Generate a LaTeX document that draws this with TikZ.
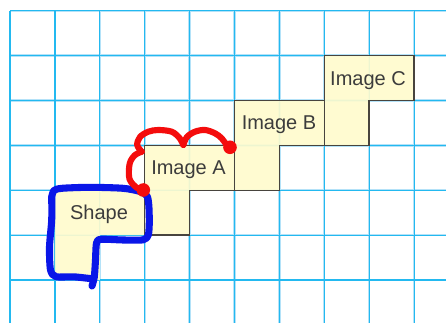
\documentclass[tikz,border=0pt]{standalone}
\usepackage{fontspec}
\setmainfont{Liberation Sans}
\definecolor{gridblue}{RGB}{35,185,240}
\definecolor{gridhalo}{RGB}{180,226,248}
\definecolor{paleyellow}{RGB}{255,251,206}
\definecolor{boxedge}{RGB}{72,68,62}
\definecolor{labelgray}{RGB}{60,60,60}
\definecolor{penblue}{RGB}{10,22,232}
\definecolor{penred}{RGB}{244,12,12}
\tikzset{
  gridhalo/.style={draw=gridhalo, line width=1.7pt},
  gridline/.style={draw=gridblue, line width=0.9pt},
  imagebox/.style={fill=paleyellow, fill opacity=0.92, draw=boxedge, line width=1.1pt, line join=miter},
  shapefill/.style={fill=paleyellow, fill opacity=0.92, draw=none},
  boxlabel/.style={text=labelgray, font=\fontsize{15}{18}\selectfont, inner sep=0pt, anchor=base},
  bluepen/.style={draw=penblue, line width=5.3pt, line cap=round, line join=round},
  redpen/.style={draw=penred, line width=4.6pt, line cap=round, line join=round},
}
\begin{document}
\begin{tikzpicture}[x=0.75pt,y=-0.75pt]
\useasboundingbox (0,0) rectangle (446,323);
\fill[white] (0,0) rectangle (446,323);
% grid
\foreach \i in {0,...,9} {
  \draw[gridhalo] ({10+44.9*\i},10.7) -- ({10+44.9*\i},323);
}
\foreach \j in {0,...,6} {
  \draw[gridhalo] (10,{10.7+44.9*\j}) -- (446,{10.7+44.9*\j});
}
\foreach \i in {0,...,9} {
  \draw[gridline] ({10+44.9*\i},10.7) -- ({10+44.9*\i},323);
}
\foreach \j in {0,...,6} {
  \draw[gridline] (10,{10.7+44.9*\j}) -- (446,{10.7+44.9*\j});
}
% shape fill
\path[shapefill] (54.9,190.3) -- (144.7,190.3) -- (144.7,235.2) -- (99.8,235.2) -- (99.8,280.1) -- (54.9,280.1) -- cycle;
% images
\draw[imagebox] (144.7,145.4) -- (234.5,145.4) -- (234.5,190.3) -- (189.6,190.3) -- (189.6,235.2) -- (144.7,235.2) -- cycle;
\draw[imagebox] (234.5,100.5) -- (324.3,100.5) -- (324.3,145.4) -- (279.4,145.4) -- (279.4,190.3) -- (234.5,190.3) -- cycle;
\draw[imagebox] (324.3,55.6) -- (414.1,55.6) -- (414.1,100.5) -- (369.2,100.5) -- (369.2,145.4) -- (324.3,145.4) -- cycle;
% labels
\node[boxlabel] (shapelbl) at (99,219.3) {Shape};
\node[boxlabel] (imgA) at (188.5,174.3) {Image A};
\node[boxlabel] (imgB) at (279,129.3) {Image B};
\node[boxlabel] (imgC) at (368,86) {Image C};
% blue hand-drawn outline
\draw[bluepen] plot[smooth, tension=0.45] coordinates {(51.7,197) (54,190.5) (62,188.3) (90,187.3) (123,188.3) (140,191.5) (147,196) (148.8,205) (149.3,222) (148.3,235) (143.3,239.8) (123.3,240) (101,239.3) (96.5,243) (95.5,260) (94.3,277) (92,286)};
\draw[bluepen] plot[smooth, tension=0.45] coordinates {(93,279) (88,278.3) (73.3,276.8) (56,276.7) (50.5,270) (49.5,247) (51.7,220) (51.7,197)};
% red curve
\coordinate (dotA) at (143.3,190);
\coordinate (dotB) at (230,147.3);
\draw[redpen] plot[smooth, tension=0.55] coordinates {(dotA) (136.7,187.7) (129.5,179) (129.6,164) (134.5,155.5) (141.7,151.7)};
\draw[redpen] plot[smooth, tension=0.55] coordinates {(141.7,151.7) (137.2,145) (140,137) (148.3,131.7) (158.3,130) (171.7,131.7) (179.5,138) (183.3,145)};
\draw[redpen] plot[smooth, tension=0.55] coordinates {(183.3,145) (186.9,137) (195,131.7) (205,130) (215,133.3) (221.7,138.3) (226.7,145) (dotB)};
\fill[penred] (dotA) circle (6.8);
\fill[penred] (dotB) circle (6.8);
\end{tikzpicture}
\end{document}
